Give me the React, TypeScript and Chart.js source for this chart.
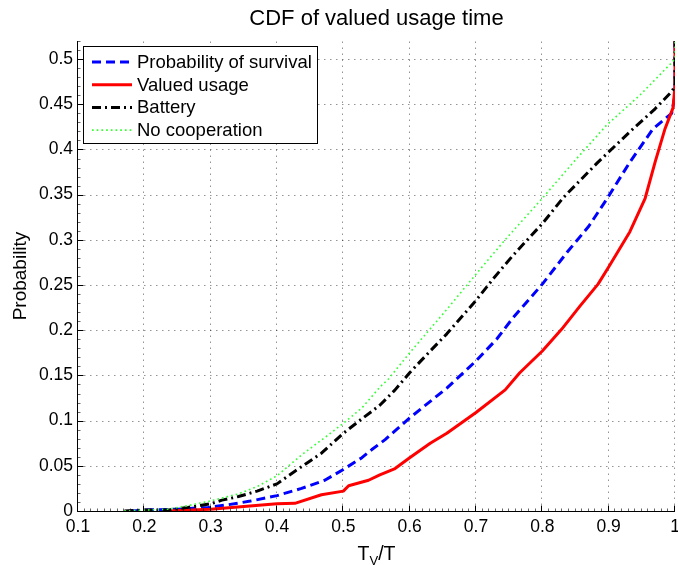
import React, { useEffect, useRef } from "react";
import { Chart, registerables } from "chart.js";

Chart.register(...registerables);

const chartTitle = "CDF of valued usage time";
const yAxisTitle = "Probability";
const xAxisMain = "T";
const xAxisSub = "V";
const xAxisTail = "/T";

const xTicks = [0.1, 0.2, 0.3, 0.4, 0.5, 0.6, 0.7, 0.8, 0.9, 1];
const yTicks = [0, 0.05, 0.1, 0.15, 0.2, 0.25, 0.3, 0.35, 0.4, 0.45, 0.5];
const xMin = 0.1;
const xMax = 1;
const yMin = 0;
const yMax = 0.52;

const seriesNames = ["Probability of survival", "Valued usage", "Battery", "No cooperation"];

const survivalX = [0.18, 0.2, 0.25, 0.296, 0.327, 0.36, 0.4, 0.437, 0.472, 0.5, 0.528, 0.543, 0.563, 0.58, 0.6, 0.656, 0.7, 0.731, 0.756, 0.8, 0.837, 0.87, 0.897, 0.932, 0.967, 0.995, 1, 1];
const survivalY = [0, 0.001, 0.002, 0.004, 0.007, 0.011, 0.017, 0.025, 0.034, 0.046, 0.059, 0.068, 0.079, 0.09, 0.103, 0.136, 0.166, 0.19, 0.214, 0.251, 0.286, 0.315, 0.345, 0.386, 0.423, 0.44, 0.46, 1];

const valuedX = [0.234, 0.3, 0.4, 0.427, 0.467, 0.5, 0.508, 0.538, 0.555, 0.578, 0.6, 0.631, 0.656, 0.7, 0.744, 0.766, 0.8, 0.829, 0.857, 0.884, 0.9, 0.932, 0.955, 0.97, 0.985, 0.997, 1, 1];
const valuedY = [0, 0.002, 0.008, 0.0085, 0.018, 0.022, 0.028, 0.034, 0.04, 0.047, 0.059, 0.075, 0.086, 0.109, 0.134, 0.153, 0.177, 0.201, 0.227, 0.251, 0.27, 0.309, 0.346, 0.386, 0.423, 0.446, 0.47, 1];

const batteryX = [0.17, 0.2, 0.236, 0.266, 0.3, 0.317, 0.342, 0.37, 0.4, 0.427, 0.467, 0.5, 0.528, 0.555, 0.578, 0.6, 0.631, 0.656, 0.7, 0.726, 0.756, 0.8, 0.832, 0.884, 0.937, 0.97, 0.995, 1, 1];
const batteryY = [0, 0.001, 0.001, 0.004, 0.008, 0.012, 0.016, 0.022, 0.03, 0.044, 0.064, 0.086, 0.102, 0.117, 0.134, 0.153, 0.177, 0.196, 0.233, 0.257, 0.283, 0.318, 0.347, 0.386, 0.423, 0.445, 0.464, 0.47, 1];

const noCoopX = [0.17, 0.2, 0.236, 0.266, 0.299, 0.342, 0.37, 0.4, 0.437, 0.477, 0.5, 0.528, 0.555, 0.568, 0.6, 0.656, 0.7, 0.745, 0.8, 0.847, 0.897, 0.947, 0.995, 1, 1];
const noCoopY = [0, 0.001, 0.002, 0.006, 0.011, 0.019, 0.027, 0.039, 0.062, 0.084, 0.097, 0.114, 0.137, 0.146, 0.175, 0.223, 0.262, 0.301, 0.346, 0.386, 0.427, 0.46, 0.496, 0.5, 1];

const seriesColors = ["#0000ff", "#ff0000", "#000000", "#33ff33"];
const seriesWidths = [3, 3, 3, 1.6];
const seriesDashes = [[9, 5], [], [9, 4, 2, 4], [1.7, 3]];

const FONT = "'Liberation Sans', Arial, Helvetica, sans-serif";

function zip(xs: number[], ys: number[]) {
  return xs.map((x, i) => ({ x, y: ys[i] }));
}

function fmt(v: number) {
  return String(parseFloat(v.toFixed(2)));
}

const decorPlugin = {
  id: "matlabDecor",
  beforeDatasetsDraw(chart: any) {
    const { ctx, chartArea } = chart;
    const xs = chart.scales.x;
    const ys = chart.scales.y;
    ctx.save();
    ctx.strokeStyle = "rgba(0,0,0,0.42)";
    ctx.lineWidth = 1;
    ctx.setLineDash([1.5, 4.5]);
    xTicks.forEach((v) => {
      if (v === xMin) return;
      const px = Math.round(xs.getPixelForValue(v)) - 0.5;
      ctx.beginPath();
      ctx.moveTo(px, chartArea.bottom);
      ctx.lineTo(px, chartArea.top);
      ctx.stroke();
    });
    yTicks.forEach((v) => {
      if (v === yMin) return;
      const py = Math.round(ys.getPixelForValue(v)) + 0.5;
      ctx.beginPath();
      ctx.moveTo(chartArea.left, py);
      ctx.lineTo(chartArea.right, py);
      ctx.stroke();
    });
    ctx.restore();
  },
  afterDatasetsDraw(chart: any) {
    const { ctx, chartArea } = chart;
    const xs = chart.scales.x;
    const ys = chart.scales.y;
    const L = Math.round(chartArea.left) - 0.5;
    const B = Math.round(chartArea.bottom) + 0.5;
    ctx.save();
    ctx.setLineDash([]);
    ctx.strokeStyle = "#000";
    ctx.lineWidth = 1;
    ctx.beginPath();
    ctx.moveTo(L, chartArea.top);
    ctx.lineTo(L, B);
    ctx.lineTo(chartArea.right, B);
    ctx.stroke();
    ctx.strokeStyle = "rgba(0,0,0,0.6)";
    ctx.beginPath();
    for (let i = 10; i <= 100; i++) {
      const px = Math.round(xs.getPixelForValue(i / 100)) - 0.5;
      ctx.moveTo(px, B);
      ctx.lineTo(px, B - 3);
    }
    for (let i = 0; i <= 52; i++) {
      const py = Math.round(ys.getPixelForValue(i / 100)) + 0.5;
      ctx.moveTo(L, py);
      ctx.lineTo(L + 3, py);
    }
    ctx.stroke();
    ctx.strokeStyle = "#000";
    ctx.beginPath();
    xTicks.forEach((v) => {
      const px = Math.round(xs.getPixelForValue(v)) - 0.5;
      ctx.moveTo(px, B);
      ctx.lineTo(px, B - 6);
    });
    yTicks.forEach((v) => {
      const py = Math.round(ys.getPixelForValue(v)) + 0.5;
      ctx.moveTo(L, py);
      ctx.lineTo(L + 6, py);
    });
    ctx.stroke();

    // legend
    const lx = 83.5, ly = 46.5, lw = 234, lh = 97;
    ctx.fillStyle = "#fff";
    ctx.fillRect(lx, ly, lw, lh);
    ctx.strokeStyle = "#000";
    ctx.lineWidth = 1;
    ctx.strokeRect(lx, ly, lw, lh);
    ctx.font = `18.5px ${FONT}`;
    ctx.textBaseline = "middle";
    ctx.textAlign = "left";
    chart.data.datasets.forEach((ds: any, i: number) => {
      const rowY = 62 + i * 22.7;
      ctx.save();
      ctx.strokeStyle = ds.borderColor;
      ctx.lineWidth = ds.borderWidth;
      ctx.setLineDash(ds.borderDash || []);
      ctx.beginPath();
      ctx.moveTo(92, rowY);
      ctx.lineTo(132, rowY);
      ctx.stroke();
      ctx.restore();
      ctx.fillStyle = "#000";
      ctx.fillText(ds.label, 137, rowY + 1);
    });

    const cx = (chartArea.left + chartArea.right) / 2;

    // title
    ctx.fillStyle = "#000";
    ctx.textBaseline = "alphabetic";
    ctx.textAlign = "center";
    ctx.font = `22px ${FONT}`;
    ctx.fillText(chartTitle, cx, 25);

    // x axis label with subscript
    ctx.textAlign = "left";
    const mainFont = `19.5px ${FONT}`;
    const subFont = `13px ${FONT}`;
    ctx.font = mainFont;
    const w1 = ctx.measureText(xAxisMain).width;
    const w3 = ctx.measureText(xAxisTail).width;
    ctx.font = subFont;
    const w2 = ctx.measureText(xAxisSub).width;
    let sx = cx - (w1 + w2 + w3) / 2;
    const base = 560;
    ctx.font = mainFont;
    ctx.fillText(xAxisMain, sx, base);
    sx += w1;
    ctx.font = subFont;
    ctx.fillText(xAxisSub, sx, base + 5);
    sx += w2;
    ctx.font = mainFont;
    ctx.fillText(xAxisTail, sx, base);
    ctx.restore();
  },
};

export default function App() {
  const canvasRef = useRef<HTMLCanvasElement | null>(null);

  useEffect(() => {
    document.body.style.margin = "0";
    const canvas = canvasRef.current;
    if (!canvas) return;
    const datasets = [
      zip(survivalX, survivalY),
      zip(valuedX, valuedY),
      zip(batteryX, batteryY),
      zip(noCoopX, noCoopY),
    ].map((data, i) => ({
      label: seriesNames[i],
      data,
      borderColor: seriesColors[i],
      backgroundColor: seriesColors[i],
      borderWidth: seriesWidths[i],
      borderDash: seriesDashes[i],
      pointRadius: 0,
      tension: 0,
      fill: false,
      order: 4 - i,
      borderCapStyle: "butt" as const,
      borderJoinStyle: "round" as const,
    }));

    const chart = new Chart(canvas, {
      type: "line",
      data: { datasets },
      options: {
        animation: false,
        responsive: false,
        maintainAspectRatio: false,
        devicePixelRatio: 1,
        layout: { padding: { left: 0, right: 3, top: 41, bottom: 0 } },
        plugins: {
          legend: { display: false },
          tooltip: { enabled: false },
          title: { display: false },
        },
        scales: {
          x: {
            type: "linear",
            min: xMin,
            max: xMax,
            grid: { display: false, drawTicks: false },
            border: { display: false },
            afterBuildTicks: (s: any) => {
              s.ticks = xTicks.map((v) => ({ value: v }));
            },
            afterFit: (s: any) => {
              s.height = 54;
              s.paddingLeft = 0;
              s.paddingRight = 0;
            },
            ticks: {
              color: "#000",
              font: { family: FONT, size: 17.5 },
              padding: 6,
              maxRotation: 0,
              autoSkip: false,
              callback: (v: any) => fmt(Number(v)),
            },
          },
          y: {
            type: "linear",
            min: yMin,
            max: yMax,
            grid: { display: false, drawTicks: false },
            border: { display: false },
            afterBuildTicks: (s: any) => {
              s.ticks = yTicks.map((v) => ({ value: v }));
            },
            afterFit: (s: any) => {
              s.width = 78;
              s.paddingTop = 0;
              s.paddingBottom = 0;
            },
            title: {
              display: true,
              text: yAxisTitle,
              color: "#000",
              font: { family: FONT, size: 19 },
              padding: { top: 9, bottom: 0 },
            },
            ticks: {
              color: "#000",
              font: { family: FONT, size: 17.5 },
              padding: 5,
              autoSkip: false,
              callback: (v: any) => fmt(Number(v)),
            },
          },
        },
      },
      plugins: [decorPlugin],
    } as any);

    return () => {
      chart.destroy();
    };
  }, []);

  return (
    <div style={{ width: 678, height: 565, background: "#fff" }}>
      <canvas ref={canvasRef} width={678} height={565} style={{ display: "block" }} />
    </div>
  );
}
